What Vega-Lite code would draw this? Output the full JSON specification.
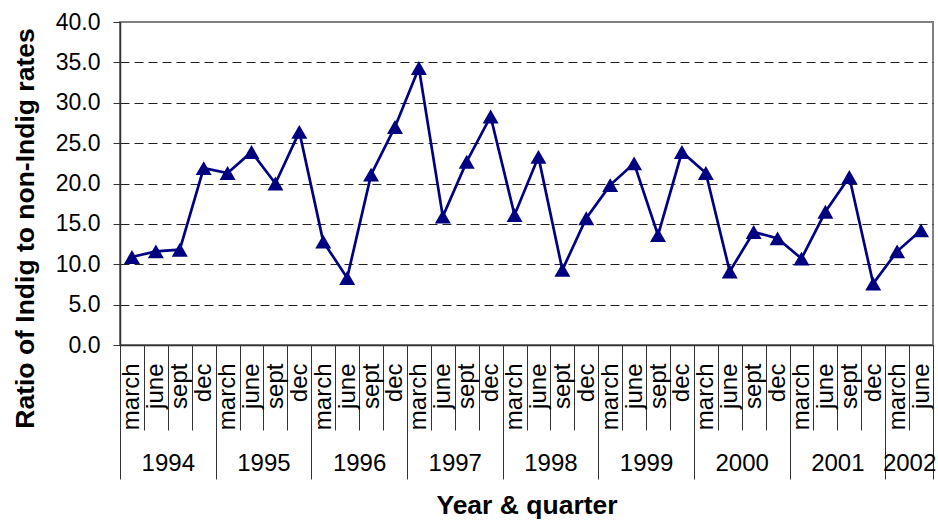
{
  "$schema": "https://vega.github.io/schema/vega-lite/v6.json",
  "width": 813,
  "height": 323,
  "autosize": "none",
  "padding": {"left": 120, "top": 22, "right": 5, "bottom": 176},
  "background": "white",
  "config": {
    "font": "Liberation Sans",
    "view": {"stroke": "#808080", "strokeWidth": 2}
  },
  "data": {
    "values": [
      {"idx": 0, "year": 1994, "quarter": "march", "ratio": 10.9},
      {"idx": 1, "year": 1994, "quarter": "june", "ratio": 11.6},
      {"idx": 2, "year": 1994, "quarter": "sept", "ratio": 11.8},
      {"idx": 3, "year": 1994, "quarter": "dec", "ratio": 21.9},
      {"idx": 4, "year": 1995, "quarter": "march", "ratio": 21.3},
      {"idx": 5, "year": 1995, "quarter": "june", "ratio": 23.9},
      {"idx": 6, "year": 1995, "quarter": "sept", "ratio": 20.0},
      {"idx": 7, "year": 1995, "quarter": "dec", "ratio": 26.4},
      {"idx": 8, "year": 1996, "quarter": "march", "ratio": 12.8},
      {"idx": 9, "year": 1996, "quarter": "june", "ratio": 8.3},
      {"idx": 10, "year": 1996, "quarter": "sept", "ratio": 21.1},
      {"idx": 11, "year": 1996, "quarter": "dec", "ratio": 27.0},
      {"idx": 12, "year": 1997, "quarter": "march", "ratio": 34.3},
      {"idx": 13, "year": 1997, "quarter": "june", "ratio": 15.9},
      {"idx": 14, "year": 1997, "quarter": "sept", "ratio": 22.7},
      {"idx": 15, "year": 1997, "quarter": "dec", "ratio": 28.3},
      {"idx": 16, "year": 1998, "quarter": "march", "ratio": 16.1},
      {"idx": 17, "year": 1998, "quarter": "june", "ratio": 23.3},
      {"idx": 18, "year": 1998, "quarter": "sept", "ratio": 9.3},
      {"idx": 19, "year": 1998, "quarter": "dec", "ratio": 15.7},
      {"idx": 20, "year": 1999, "quarter": "march", "ratio": 19.8},
      {"idx": 21, "year": 1999, "quarter": "june", "ratio": 22.5},
      {"idx": 22, "year": 1999, "quarter": "sept", "ratio": 13.6},
      {"idx": 23, "year": 1999, "quarter": "dec", "ratio": 23.9},
      {"idx": 24, "year": 2000, "quarter": "march", "ratio": 21.3},
      {"idx": 25, "year": 2000, "quarter": "june", "ratio": 9.1},
      {"idx": 26, "year": 2000, "quarter": "sept", "ratio": 14.0},
      {"idx": 27, "year": 2000, "quarter": "dec", "ratio": 13.2},
      {"idx": 28, "year": 2001, "quarter": "march", "ratio": 10.7},
      {"idx": 29, "year": 2001, "quarter": "june", "ratio": 16.5},
      {"idx": 30, "year": 2001, "quarter": "sept", "ratio": 20.8},
      {"idx": 31, "year": 2001, "quarter": "dec", "ratio": 7.6},
      {"idx": 32, "year": 2002, "quarter": "march", "ratio": 11.6},
      {"idx": 33, "year": 2002, "quarter": "june", "ratio": 14.2}
    ]
  },
  "encoding": {
    "y": {
      "field": "ratio",
      "type": "quantitative",
      "scale": {"domain": [0, 40], "nice": false, "zero": true},
      "axis": {
        "values": [0, 5, 10, 15, 20, 25, 30, 35, 40],
        "format": ".1f",
        "grid": true,
        "gridColor": "#222222",
        "gridDash": [9, 5],
        "gridWidth": 1,
        "gridOpacity": {"condition": {"test": "datum.value >= 40 || datum.value <= 0", "value": 0}, "value": 1},
        "domainColor": "#333333",
        "domainWidth": 1.5,
        "tickColor": "#333333",
        "tickSize": 7,
        "tickWidth": 1,
        "labelPadding": 13,
        "labelFontSize": 23,
        "labelColor": "#000000",
        "title": "Ratio of Indig to non-Indig rates",
        "titleFontSize": 26.5,
        "titleFontWeight": "bold",
        "titleColor": "#000000",
        "titleAngle": -90,
        "titleBaseline": "alphabetic",
        "titleAlign": "center",
        "titleX": -87,
        "titleY": 206
      }
    }
  },
  "layer": [
    {
      "mark": {"type": "line", "color": "#000080", "strokeWidth": 2.7},
      "encoding": {
        "x": {
          "field": "idx",
          "type": "quantitative",
          "scale": {"domain": [-0.5, 33.5], "nice": false, "zero": false},
          "axis": {
            "orient": "bottom",
            "values": [-0.5, 0.5, 1.5, 2.5, 3.5, 4.5, 5.5, 6.5, 7.5, 8.5, 9.5, 10.5, 11.5, 12.5, 13.5, 14.5, 15.5, 16.5, 17.5, 18.5, 19.5, 20.5, 21.5, 22.5, 23.5, 24.5, 25.5, 26.5, 27.5, 28.5, 29.5, 30.5, 31.5, 32.5, 33.5],
            "grid": false,
            "domainColor": "#333333",
            "domainWidth": 1.5,
            "tickColor": "#333333",
            "tickWidth": 1,
            "tickSize": 85,
            "labelExpr": "datum.value > 33 ? '' : ['march', 'june', 'sept', 'dec'][(datum.value + 0.5) % 4]",
            "labelAngle": 270,
            "labelAlign": "right",
            "labelBaseline": "middle",
            "labelOffset": 11.96,
            "labelPadding": -67,
            "labelFontSize": 24,
            "labelColor": "#000000",
            "labelOverlap": false,
            "labelFlush": false,
            "labelBound": false,
            "title": null
          }
        }
      }
    },
    {
      "mark": {"type": "point", "shape": "triangle-up", "filled": true, "color": "#000080", "size": 256, "opacity": 1},
      "encoding": {
        "x": {
          "field": "idx",
          "type": "quantitative",
          "scale": {"domain": [-0.5, 33.5], "nice": false, "zero": false},
          "axis": {
            "orient": "bottom",
            "values": [-0.5, 3.5, 7.5, 11.5, 15.5, 19.5, 23.5, 27.5, 31.5, 33.5],
            "grid": false,
            "domain": false,
            "tickColor": "#333333",
            "tickWidth": 1,
            "tickSize": 134,
            "labelExpr": "datum.value > 33 ? '' : '' + (1994 + round((datum.value + 0.5) / 4))",
            "labelAngle": 0,
            "labelAlign": "center",
            "labelBaseline": "middle",
            "labelOffset": {"condition": {"test": "datum.value > 31 && datum.value < 32", "value": 23.9}, "value": 47.8},
            "labelPadding": -16,
            "labelFontSize": 24,
            "labelColor": "#000000",
            "labelOverlap": false,
            "labelFlush": false,
            "labelBound": false,
            "title": "Year & quarter",
            "titleFontSize": 26.5,
            "titleFontWeight": "bold",
            "titleColor": "#000000",
            "titlePadding": 13
          }
        }
      }
    }
  ],
  "resolve": {"axis": {"x": "independent"}}
}
